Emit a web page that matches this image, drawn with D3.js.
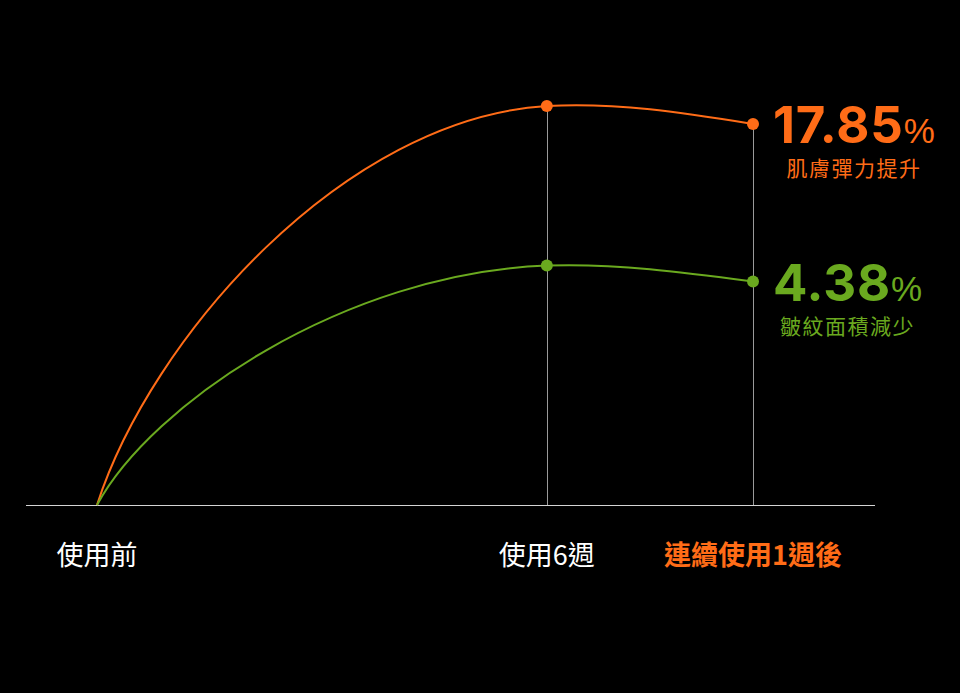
<!DOCTYPE html>
<html>
<head>
<meta charset="utf-8">
<script src="https://cdn.jsdelivr.net/npm/d3@7"></script>
<style>
  html, body { margin: 0; padding: 0; background: #000; }
  svg { display: block; }
</style>
</head>
<body>
<svg id="chart"></svg>
<script>
// stages along the bottom, and where each sits on the timeline
const stages = ['使用前', '使用6週', '連續使用1週後'];
const stagePos = [0, 6, 8.75];

// curve heights (index, 使用6週 elasticity = 100)
const elasticity = [0, 100, 95.5];
const wrinkles = [0, 60, 56];

// headline results at the last stage
const seriesNames = ['肌膚彈力提升', '皺紋面積減少'];
const finalValues = [17.85, 4.38];

const w = 960;
const h = 693;
const orange = '#ff6c17';
const green = '#6aa91f';

const svg = d3.select('#chart')
    .attr('width', w)
    .attr('height', h)
    .style('background', '#000');

const xScale = d3.scaleLinear()
    .domain([0, 8.75])
    .range([97, 753]);
const yScale = d3.scaleLinear()
    .domain([0, 100])
    .range([505, 106]);

// rises fast then flattens, keeps going through the later points
function easeOutCurve(context) {
    let pts = [];
    return {
        areaStart() {}, areaEnd() {},
        lineStart() { pts = []; },
        point(x, y) { pts.push([+x, +y]); },
        lineEnd() {
            if (!pts.length) return;
            context.moveTo(pts[0][0], pts[0][1]);
            if (pts.length < 2) return;
            const [a, b] = pts;
            const dx = b[0] - a[0], dy = b[1] - a[1];
            context.bezierCurveTo(a[0] + 0.12 * dx, a[1] + 0.42 * dy,
                b[0] - 0.45 * dx, b[1] - 0.03 * dy, b[0], b[1]);
            let m = (0.03 * dy) / (0.45 * dx);
            for (let i = 2; i < pts.length; i++) {
                const p = pts[i - 1], q = pts[i];
                const hx = q[0] - p[0];
                const s = (q[1] - p[1]) / hx;
                const m2 = 1.5 * s - 0.5 * m;
                context.bezierCurveTo(p[0] + hx / 3, p[1] + m * hx / 3,
                    q[0] - hx / 3, q[1] - m2 * hx / 3, q[0], q[1]);
                m = m2;
            }
        }
    };
}

const series = [
    {name: seriesNames[0], values: elasticity, value: finalValues[0], color: orange},
    {name: seriesNames[1], values: wrinkles, value: finalValues[1], color: green}
];

const g = svg.append('g');

// baseline
const xAxis = d3.axisBottom(xScale).tickValues([]).tickSizeOuter(0);
const xAxisG = g.append('g')
    .attr('transform', `translate(0,${yScale(0) + 0.5})`)
    .call(xAxis);
xAxisG.select('.domain')
    .attr('d', `M26,0H875`)
    .attr('stroke', '#d4d4d4')
    .attr('stroke-width', 1);

// vertical guides from the top dot down to the baseline
g.selectAll('.guide').data(stagePos.slice(1))
    .enter().append('line')
        .attr('class', 'guide')
        .attr('x1', d => Math.round(xScale(d)) + 0.5)
        .attr('x2', d => Math.round(xScale(d)) + 0.5)
        .attr('y1', (d, i) => yScale(d3.max(series, s => s.values[i + 1])))
        .attr('y2', yScale(0))
        .attr('stroke', '#9a9a9a')
        .attr('stroke-width', 1);

const line = d3.line()
    .x((d, i) => xScale(stagePos[i]))
    .y(d => yScale(d))
    .curve(easeOutCurve);

series.forEach(s => {
    g.append('path')
        .attr('d', line(s.values))
        .attr('fill', 'none')
        .attr('stroke', s.color)
        .attr('stroke-width', 2);

    g.selectAll(null).data(s.values.slice(1))
        .enter().append('circle')
            .attr('cx', (d, i) => xScale(stagePos[i + 1]))
            .attr('cy', d => yScale(d))
            .attr('r', 6)
            .attr('fill', s.color);

    const last = s.values.length - 1;
    const lx = xScale(stagePos[last]) + 20;
    const ly = yScale(s.values[last]) + 19;

    const big = g.append('text')
        .attr('x', lx)
        .attr('y', ly)
        .attr('fill', s.color)
        .style('font-family', 'Inter, "Liberation Sans", sans-serif');
    big.append('tspan')
        .style('font-size', '51px')
        .style('font-weight', 'bold')
        .style('letter-spacing', '0.8px')
        .text(d3.format('.2f')(s.value));
    big.append('tspan')
        .style('font-family', '"Liberation Sans", Arial, sans-serif')
        .style('font-size', '35px')
        .text('%');

    const bb = big.node().getBBox();
    g.append('text')
        .attr('x', bb.x + bb.width / 2)
        .attr('y', ly + 33)
        .attr('text-anchor', 'middle')
        .attr('fill', s.color)
        .style('font-family', '"Noto Sans CJK TC", sans-serif')
        .style('font-size', '21px')
        .style('letter-spacing', '1.5px')
        .text(s.name);
});

// stage labels under the baseline
g.selectAll('.stage').data(stages)
    .enter().append('text')
        .attr('class', 'stage')
        .attr('x', (d, i) => xScale(stagePos[i]))
        .attr('y', 565)
        .attr('text-anchor', 'middle')
        .attr('fill', (d, i) => i === stages.length - 1 ? orange : '#fff')
        .style('font-family', '"Noto Sans CJK TC", sans-serif')
        .style('font-size', '27px')
        .style('font-weight', (d, i) => i === stages.length - 1 ? 'bold' : 'normal')
        .text(d => d);
</script>
</body>
</html>
